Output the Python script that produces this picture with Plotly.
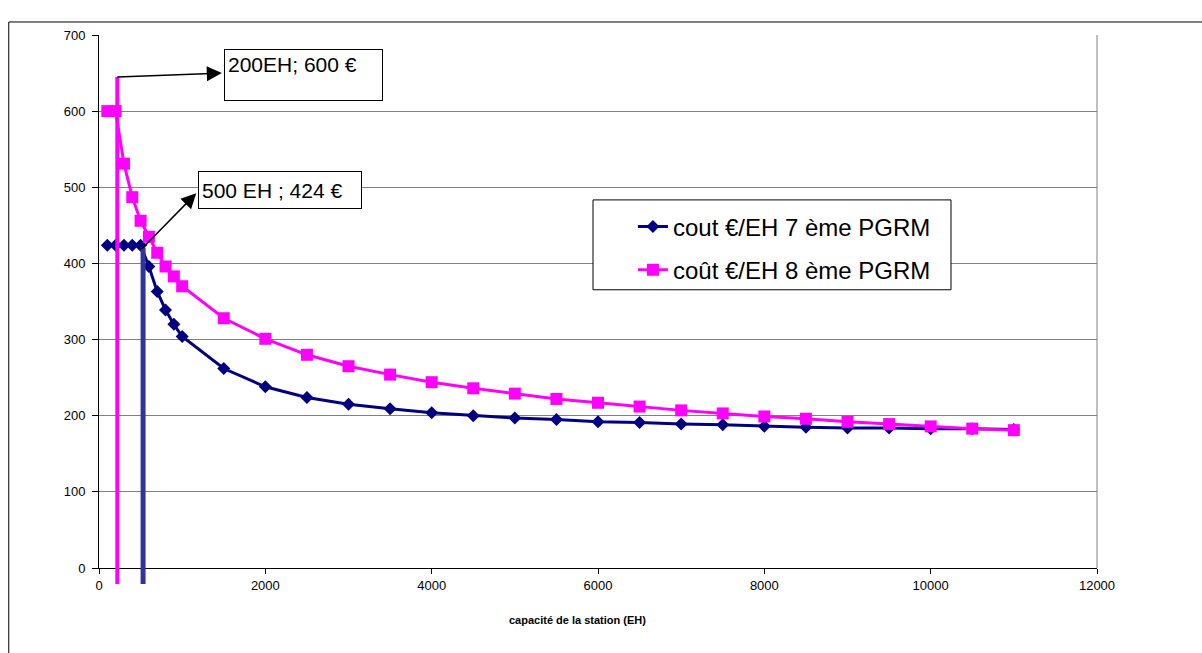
import plotly.graph_objects as go

# ---------------- data ----------------
capacite = [100, 200, 300, 400, 500, 600, 700, 800, 900, 1000, 1500, 2000, 2500,
            3000, 3500, 4000, 4500, 5000, 5500, 6000, 6500, 7000, 7500, 8000,
            8500, 9000, 9500, 10000, 10500, 11000]
cout_7 = [424, 424, 424, 424, 424, 396, 363, 339, 320, 304, 262, 238, 224,
          215, 209, 204, 200, 197, 195, 192, 191, 189, 188, 186,
          185, 184, 184, 183, 183, 182]
cout_8 = [600, 600, 531, 487, 456, 435, 414, 396, 383, 370, 328, 301, 280,
          265, 254, 244, 236, 229, 222, 217, 212, 207, 203, 199,
          196, 192, 189, 186, 183, 181]

name_7 = "cout €/EH 7 ème PGRM"
name_8 = "coût €/EH 8 ème PGRM"

# highlighted stations (vertical markers, as drawn in the picture)
mark_8_x, mark_8_top = 220, 645
mark_7_x, mark_7_top = 530, 421
label_8 = "200EH; 600 €"
label_7 = "500 EH ; 424 €"
label_8_box = (2457, 648)   # centre of the text box (data units)
label_7_box = (2182, 496)
arrow_8_head = (1495, 650)
arrow_7_tail = (513, 419)
arrow_7_head = (1187, 494)

x_ticks = [0, 2000, 4000, 6000, 8000, 10000, 12000]
x_ticktext = ["0", "2000", "4000", "6000", "8000", "10000", "12000"]
y_ticks = [0, 100, 200, 300, 400, 500, 600, 700]
x_title = "capacité de la station (EH)"

FONT = "Liberation Sans, Arial, sans-serif"
NAVY = "#000080"
MAGENTA = "#FF00FF"

fig = go.Figure()
fig.add_trace(go.Scatter(
    x=capacite, y=cout_7, name=name_7, mode="lines+markers",
    line=dict(color=NAVY, width=3),
    marker=dict(symbol="diamond", size=10, color=NAVY),
    legendgroup="a"))
fig.add_trace(go.Scatter(
    x=capacite, y=cout_8, name=name_8, mode="lines+markers",
    line=dict(color=MAGENTA, width=3),
    marker=dict(symbol="square", size=12, color=MAGENTA),
    legendgroup="b"))

ymax = y_ticks[-1]
shapes = [
    # outer frame
    dict(type="rect", xref="paper", yref="paper", x0=-0.0904, x1=1.12, y0=-0.17, y1=1.0244,
         line=dict(color="black", width=1), fillcolor="rgba(0,0,0,0)", layer="below"),
    # right border of plot area
    dict(type="line", xref="paper", yref="paper", x0=1, x1=1, y0=0, y1=1,
         line=dict(color="#808080", width=1)),
    # vertical markers
    dict(type="line", xref="x", yref="paper", x0=mark_8_x, x1=mark_8_x,
         y0=-0.03, y1=mark_8_top / ymax, line=dict(color=MAGENTA, width=4)),
    dict(type="line", xref="x", yref="paper", x0=mark_7_x, x1=mark_7_x,
         y0=-0.03, y1=mark_7_top / ymax, line=dict(color="#333399", width=5)),
    # legend box
    dict(type="rect", xref="paper", yref="paper", x0=0.495, x1=0.8537, y0=0.522, y1=0.6906,
         line=dict(color="black", width=1), fillcolor="white", layer="above"),
]

arrow_style = dict(showarrow=True, arrowside="start", arrowhead=2, startarrowhead=2,
                   arrowsize=2, startarrowsize=2, arrowwidth=1.5, arrowcolor="black",
                   xref="x", yref="y", axref="x", ayref="y", text="")
box_style = dict(showarrow=False, xref="x", yref="y", align="left",
                 bordercolor="black", borderwidth=1, borderpad=3, bgcolor="white",
                 xanchor="center", yanchor="middle",
                 font=dict(family=FONT, size=21, color="black"))

annotations = [
    dict(x=mark_8_x, y=mark_8_top, ax=arrow_8_head[0], ay=arrow_8_head[1], **arrow_style),
    dict(x=arrow_7_tail[0], y=arrow_7_tail[1], ax=arrow_7_head[0], ay=arrow_7_head[1], **arrow_style),
    dict(x=label_8_box[0], y=label_8_box[1], text=label_8, width=151, height=44,
         valign="top", **box_style),
    dict(x=label_7_box[0], y=label_7_box[1], text=label_7, width=156, height=30,
         valign="middle", **box_style),
    dict(x=0.479, y=-0.098, xref="paper", yref="paper", showarrow=False,
         text="<b>" + x_title + "</b>", xanchor="center", yanchor="middle",
         font=dict(family=FONT, size=11, color="black")),
]

fig.update_layout(
    width=1202, height=653,
    margin=dict(l=99, r=105, t=35, b=85),
    paper_bgcolor="white", plot_bgcolor="white",
    font=dict(family=FONT, size=13, color="black"),
    showlegend=True,
    legend=dict(x=0.535, y=0.682, xanchor="left", yanchor="top",
                bgcolor="rgba(0,0,0,0)", borderwidth=0,
                font=dict(family=FONT, size=24, color="black"),
                traceorder="grouped", tracegroupgap=9),
    shapes=shapes, annotations=annotations,
)
fig.update_xaxes(range=[0, 12000], tickvals=x_ticks, ticktext=x_ticktext, showgrid=False,
                 showline=True, linecolor="black", linewidth=1,
                 ticks="outside", ticklen=5, tickcolor="black",
                 tickfont=dict(family=FONT, size=13), zeroline=False)
fig.update_yaxes(range=[0, ymax], tickvals=y_ticks, showgrid=True,
                 gridcolor="#808080", gridwidth=1,
                 showline=True, linecolor="black", linewidth=1,
                 ticks="outside", ticklen=6, tickcolor="black",
                 ticklabelstandoff=4,
                 tickfont=dict(family=FONT, size=13), zeroline=False)

fig.write_html("out.html")
